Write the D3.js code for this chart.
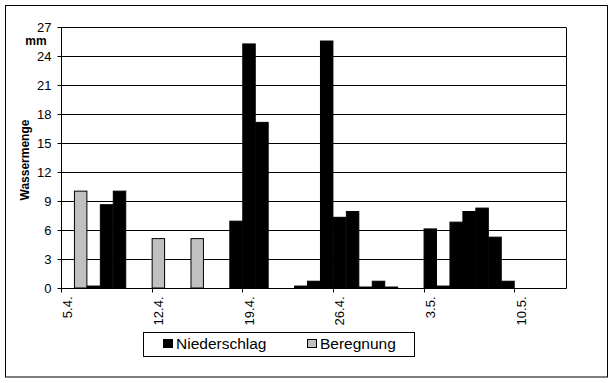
<!DOCTYPE html>
<html><head><meta charset="utf-8">
<script src="https://cdn.jsdelivr.net/npm/d3@7/dist/d3.min.js"></script>
<style>
body{margin:0;background:#fff;}
text{font-family:"Liberation Sans",Arial,sans-serif;fill:#000;}
</style></head>
<body><svg id="c" width="614" height="383"></svg>
<script>
const dates = ["5.4.","6.4.","7.4.","8.4.","9.4.","10.4.","11.4.","12.4.","13.4.","14.4.","15.4.","16.4.","17.4.","18.4.","19.4.","20.4.","21.4.","22.4.","23.4.","24.4.","25.4.","26.4.","27.4.","28.4.","29.4.","30.4.","1.5.","2.5.","3.5.","4.5.","5.5.","6.5.","7.5.","8.5.","9.5.","10.5.","11.5.","12.5.","13.5."];
const niederschlag = [0,0,0.2,8.6,10.0,0,0,0,0,0,0,0,0,6.9,25.2,17.1,0,0,0.2,0.7,25.5,7.3,7.9,0.1,0.7,0.1,0,0,6.1,0.2,6.8,7.9,8.25,5.25,0.7,0,0,0,0];
const beregnung = [0,10,0,0,0,0,0,5.1,0,0,5.1,0,0,0,0,0,0,0,0,0,0,0,0,0,0,0,0,0,0,0,0,0,0,0,0,0,0,0,0];
const yTicks = [0,3,6,9,12,15,18,21,24,27];
const xTickLabels = ["5.4.","12.4.","19.4.","26.4.","3.5.","10.5."];
const seriesNames = ["Niederschlag","Beregnung"];

const svg = d3.select("#c");
const L=61, R=566, T=26.5, B=288;
const x = d3.scaleBand().domain(dates).range([L,R]).padding(0);
const y = d3.scaleLinear().domain([0,27]).range([B,T]);

// outer border
svg.append("rect").attr("x",5.5).attr("y",5.5).attr("width",602).attr("height",371.5)
  .attr("fill","none").attr("stroke","#000");

// grid
svg.append("g").selectAll("line").data(yTicks.filter(d=>d>0)).join("line")
  .attr("x1",L).attr("x2",R).attr("y1",d=>Math.round(y(d))+0.5).attr("y2",d=>Math.round(y(d))+0.5)
  .attr("stroke","#000");
// right border
svg.append("line").attr("x1",R+0.5).attr("x2",R+0.5).attr("y1",Math.round(T)+0.5).attr("y2",B+0.5).attr("stroke","#000");

// bars
function drawBars(vals, fill){
  svg.append("g").selectAll("rect").data(dates.map((d,i)=>({d,v:vals[i]})).filter(o=>o.v>0)).join("rect")
    .attr("x",o=>x(o.d)+0.5).attr("width",x.bandwidth()-0.5)
    .attr("y",o=>y(o.v)).attr("height",o=>B-y(o.v))
    .attr("fill",fill).attr("stroke","#000").attr("stroke-width",1);
}
drawBars(beregnung,"#c0c0c0");
drawBars(niederschlag,"#000");

// y axis
const ya = svg.append("g").attr("transform",`translate(${L+0.5},0)`)
  .call(d3.axisLeft(y).tickValues(yTicks).tickSize(4).tickSizeOuter(0).tickPadding(6));
ya.select(".domain").attr("stroke","#000");
ya.selectAll(".tick line").attr("stroke","#000");
ya.selectAll(".tick text").attr("font-size","13px").attr("font-family","Liberation Sans, Arial, sans-serif").attr("fill","#000");
ya.selectAll(".tick").attr("transform",d=>`translate(0,${Math.round(y(d))+0.5})`);
ya.select(".domain").attr("d",`M0,${Math.round(T)+0.5}V${B+0.5}`);

// x axis
const xa = svg.append("g").attr("transform",`translate(0,${B+0.5})`);
xa.append("line").attr("x1",L).attr("x2",R+0.5).attr("stroke","#000");
xa.selectAll("line.tk").data(xTickLabels).join("line").attr("class","tk")
  .attr("x1",d=>Math.round(x(d))+0.5).attr("x2",d=>Math.round(x(d))+0.5).attr("y1",0).attr("y2",4).attr("stroke","#000");
xa.selectAll("text").data(xTickLabels).join("text")
  .attr("transform",d=>`translate(${x(d)+x.bandwidth()/2+5},8) rotate(-90)`)
  .attr("text-anchor","end").attr("font-size","13px").text(d=>d);

// axis titles
svg.append("text").attr("transform","translate(29,160) rotate(-90)").attr("text-anchor","middle")
  .attr("font-size","12px").attr("font-weight","bold").text("Wassermenge");
svg.append("text").attr("x",36).attr("y",44.5).attr("text-anchor","middle")
  .attr("font-size","12px").attr("font-weight","bold").text("mm");

// legend
const lg = svg.append("g");
lg.append("rect").attr("x",143.5).attr("y",332.5).attr("width",271).attr("height",24).attr("fill","#fff").attr("stroke","#000");
const items=[{n:seriesNames[0],c:"#000",x:163},{n:seriesNames[1],c:"#c0c0c0",x:307}];
items.forEach(it=>{
  lg.append("rect").attr("x",it.x+0.5).attr("y",339.5).attr("width",9).attr("height",8).attr("fill",it.c).attr("stroke","#000");
  lg.append("text").attr("x",it.x+13).attr("y",349).attr("font-size","15.5px").text(it.n);
});
</script></body></html>
